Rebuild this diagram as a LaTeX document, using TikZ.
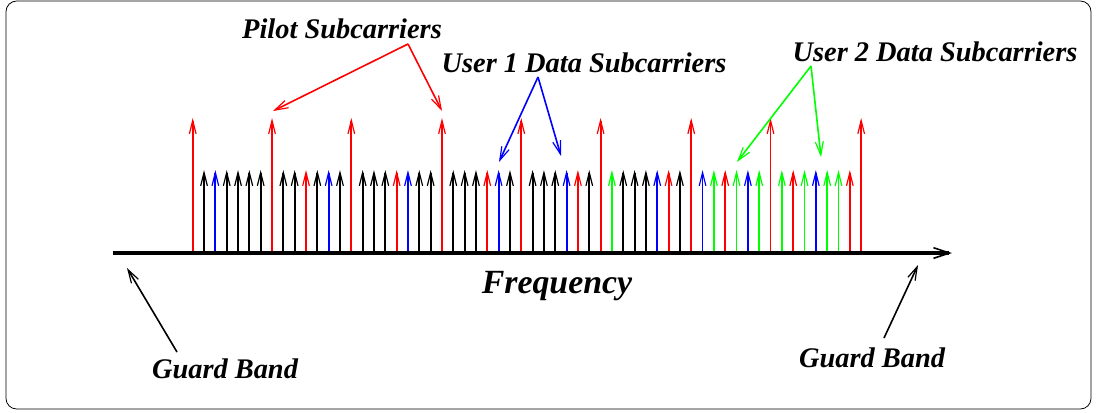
\documentclass[tikz,border=0pt]{standalone}
\usepackage{fontspec}
\setmainfont{Liberation Serif}
\usetikzlibrary{arrows.meta}

\begin{document}
\begin{tikzpicture}[x=0.75pt,y=-0.75pt,
    lbl/.style={font=\fontsize{21.3}{24}\selectfont\bfseries\itshape, inner sep=0pt, anchor=base},
    carrier/.style={line width=1.4pt, -{Straight Barb[length=10pt,width=5pt,line width=0.9pt]}},
    callout/.style={line width=1.2pt, -{Straight Barb[length=10pt,width=6pt,line width=0.9pt]}},
    cP/.style={red}, cR/.style={red}, cK/.style={black},
    cB/.style={blue}, cG/.style={green}
  ]
  \useasboundingbox (0,0) rectangle (1098,412);

  % Frame
  \draw[line width=0.6pt, rounded corners=8pt] (6,1) rectangle (1091,409);

  % First subcarrier, spacing, axis level and arrow tops
  \pgfmathsetmacro{\xo}{192.7}
  \pgfmathsetmacro{\dx}{11.33}
  \pgfmathsetmacro{\base}{253}
  \pgfmathsetmacro{\tall}{118}
  \pgfmathsetmacro{\short}{170}

  % Subcarriers: P pilot, R/K/B/G short ones
  \foreach \c [count=\i from 0] in {P,K,B,K,K,K,K,P,K,K,R,K,B,K,P,K,K,K,R,B,
      K,K,P,K,K,K,R,B,K,P,K,K,K,B,R,K,P,G,K,K,K,B,R,K,P,B,G,R,G,B,G,P,G,R,G,B,
      G,G,R,P} {
    \if\c P\def\ytop{\tall}\else\def\ytop{\short}\fi
    \draw[carrier, c\c] (\xo+\i*\dx, \base) -- (\xo+\i*\dx, \ytop);
  }

  % Frequency axis
  \coordinate (fstart) at (113,\base);
  \coordinate (fend) at (952,\base);
  \draw[line width=2.5pt, -{Straight Barb[length=12pt,width=8pt,line width=1.2pt]}] (fstart) -- (fend);
  \node[lbl, font=\fontsize{25.4}{28}\selectfont\bfseries\itshape] (freq) at (557,293) {Frequency};

  % Pilot label
  \node[lbl] (pilot) at (342,38) {Pilot Subcarriers};
  \coordinate (pilotfork) at (408,44);
  \coordinate (pilotA) at (273,111);
  \coordinate (pilotB) at (442,111);
  \draw[callout, red] (pilotfork) -- (pilotA);
  \draw[callout, red] (pilotfork) -- (pilotB);

  % User 1 label
  \node[lbl] (userone) at (584,72) {User 1 Data Subcarriers};
  \coordinate (onefork) at (538,77);
  \coordinate (oneA) at (499,162);
  \coordinate (oneB) at (561,156);
  \draw[callout, blue] (onefork) -- (oneA);
  \draw[callout, blue] (onefork) -- (oneB);

  % User 2 label
  \node[lbl] (usertwo) at (935,61) {User 2 Data Subcarriers};
  \coordinate (twofork) at (811,66);
  \coordinate (twoA) at (737,162);
  \coordinate (twoB) at (821,157);
  \draw[callout, green] (twofork) -- (twoA);
  \draw[callout, green] (twofork) -- (twoB);

  % Guard bands
  \node[lbl] (guardL) at (225,378) {Guard Band};
  \coordinate (gLfoot) at (177,352);
  \coordinate (gLtip) at (127,268);
  \draw[callout] (gLfoot) -- (gLtip);
  \node[lbl] (guardR) at (872,367) {Guard Band};
  \coordinate (gRfoot) at (884,338);
  \coordinate (gRtip) at (918,265);
  \draw[callout] (gRfoot) -- (gRtip);
\end{tikzpicture}
\end{document}
